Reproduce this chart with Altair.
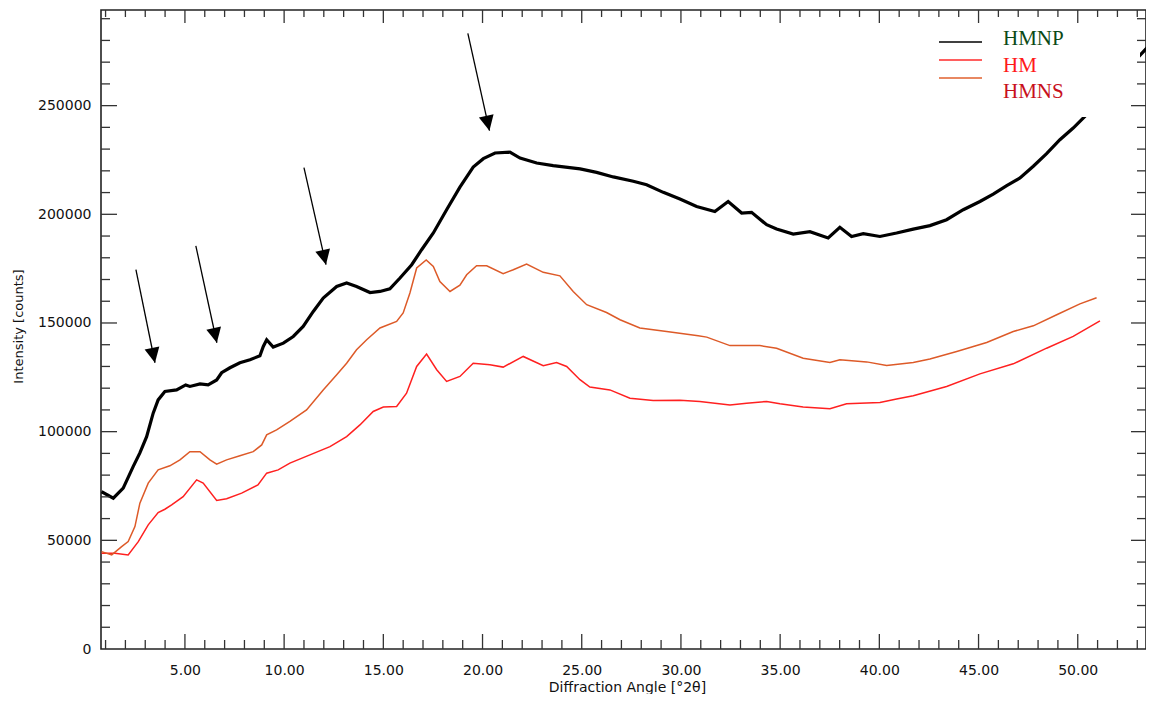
import altair as alt
import pandas as pd

# ---------------- data ----------------
hmnp_x = [0.80, 1.39, 1.89, 2.39, 2.73, 3.07, 3.40, 3.65, 3.99, 4.58, 5.04, 5.25, 5.76, 6.17, 6.60,
          6.85, 7.27, 7.77, 8.28, 8.78, 8.95, 9.12, 9.45, 9.96, 10.46, 10.96, 11.47, 11.97, 12.65, 13.15,
          13.65, 14.33, 14.83, 15.33, 15.84, 16.43, 16.93, 17.52, 18.19, 18.86, 19.53, 20.04, 20.63, 21.38,
          21.89, 22.73, 23.56, 24.92, 25.75, 26.59, 27.60, 28.27, 29.11, 29.95, 30.79, 31.71, 32.38, 33.06,
          33.56, 34.32, 34.82, 35.66, 36.50, 37.42, 38.01, 38.60, 39.19, 40.03, 40.87, 41.71, 42.55, 43.39,
          44.23, 45.07, 45.74, 46.42, 47.09, 47.76, 48.43, 49.10, 49.77, 50.36, 51.98, 53.59, 53.79]
hmnp_y = [72400, 69400, 74000, 83900, 90200, 97700, 108500, 114600, 118500, 119200, 121500, 120800, 122000,
          121500, 123800, 127100, 129400, 131700, 133100, 134900, 139200, 142300, 138900, 140700, 143800,
          148400, 155300, 161500, 166800, 168400, 166800, 164000, 164500, 165700, 170700, 176800, 183700,
          191400, 202100, 212500, 221700, 225600, 228200, 228600, 225900, 223600, 222400, 220900, 219300,
          217200, 215200, 213600, 210100, 207000, 203600, 201300, 205900, 200600, 200900, 195200, 193200,
          190900, 192000, 189100, 194000, 189800, 191100, 189800, 191400, 193200, 194800, 197500, 202100,
          205900, 209300, 213200, 216700, 222100, 227900, 234300, 239700, 245100, 262000, 277600, 280800]

hmns_x = [0.80, 1.31, 1.81, 2.14, 2.48, 2.73, 3.15, 3.65, 4.24, 4.75, 5.25, 5.76, 6.26, 6.60, 7.10,
          7.77, 8.44, 8.87, 9.12, 9.62, 10.29, 11.13, 11.97, 12.65, 13.15, 13.65, 14.16, 14.83, 15.67, 16.00,
          16.34, 16.68, 17.16, 17.52, 17.85, 18.36, 18.86, 19.20, 19.70, 20.21, 21.04, 21.55, 22.22, 23.06,
          23.90, 24.57, 25.25, 26.25, 26.93, 27.93, 29.28, 30.87, 31.30, 32.47, 33.98, 34.82, 36.16, 37.51,
          38.01, 39.36, 40.37, 41.71, 42.55, 43.90, 45.41, 46.75, 47.76, 48.94, 50.11, 50.95]
hmns_y = [44800, 43300, 47100, 49400, 56300, 67100, 76300, 82400, 84300, 87000, 90800, 90800, 87000, 85000,
          87000, 88900, 90800, 93900, 98500, 100800, 104700, 110000, 119200, 126200, 131500, 137700, 142300,
          147700, 150700, 154600, 163800, 175300, 179000, 176000, 169100, 164500, 167400, 172200, 176300,
          176300, 172700, 174500, 177100, 173300, 171700, 164500, 158400, 154800, 151500, 147700, 146100,
          144100, 143500, 139600, 139600, 138400, 133800, 131800, 133100, 132100, 130400, 131800, 133400,
          136900, 141000, 146100, 148700, 153800, 158800, 161600]

hm_x = [0.80, 1.47, 2.14, 2.65, 3.15, 3.65, 3.99, 4.33, 4.91, 5.59, 5.92, 6.60, 7.10, 7.86, 8.68,
        9.12, 9.70, 10.29, 11.30, 12.31, 13.15, 13.82, 14.49, 15.00, 15.67, 16.17, 16.68, 17.18, 17.69,
        18.19, 18.86, 19.53, 20.37, 21.04, 22.05, 23.06, 23.73, 24.24, 24.91, 25.41, 26.42, 27.43, 28.60,
        29.95, 30.95, 32.47, 33.31, 34.32, 34.99, 36.16, 37.51, 38.35, 40.03, 40.87, 41.71, 43.39, 45.07,
        46.75, 48.43, 49.77, 51.12]
hm_y = [44100, 44100, 43300, 49400, 57100, 62800, 64300, 66300, 70100, 77800, 76300, 68300, 69100, 71700,
        75500, 80900, 82400, 85500, 89300, 93100, 97700, 103100, 109300, 111300, 111600, 117700, 130000,
        135700, 128500, 123100, 125400, 131500, 130800, 129700, 134600, 130300, 131800, 130000, 123900,
        120500, 119200, 115400, 114300, 114500, 113900, 112300, 113100, 113900, 112800, 111300, 110500,
        112800, 113400, 115000, 116500, 120800, 126600, 131200, 138400, 143800, 151000]

# arrows (start -> tip, in data units) and their tilt
arrow_x = [2.53, 5.55, 11.00, 19.26]
arrow_y = [174500, 185500, 221500, 283200]
arrow_x2 = [3.49, 6.61, 12.11, 20.35]
arrow_y2 = [131700, 140900, 176800, 238500]
arrow_angle = [348.5, 347.8, 347.2, 347.5]

tick_x = list(range(1, 54))
tick_y = list(range(10000, 300000, 10000))
x_label_values = [5, 10, 15, 20, 25, 30, 35, 40, 45, 50]
y_label_values = [0, 50000, 100000, 150000, 200000, 250000]

legend_names = ["HMNP", "HM", "HMNS"]
legend_text_colors = ["#0b4a16", "#ff1a1a", "#c8101c"]
legend_line_colors = ["#000000", "#ff2a2a", "#e0602e"]

# ---------------- chart ----------------
W, H = 1045, 639
xs = alt.Scale(domain=[0.77, 53.44], nice=False, zero=False)
ys = alt.Scale(domain=[0, 294000], nice=False, zero=False)
FONT = "DejaVu Sans"

df_hmnp = pd.DataFrame({"x": hmnp_x, "y": hmnp_y})
df_hmns = pd.DataFrame({"x": hmns_x, "y": hmns_y})
df_hm = pd.DataFrame({"x": hm_x, "y": hm_y})

x_axis = alt.Axis(values=x_label_values, format=".2f", title="Diffraction Angle [°2θ]",
                  ticks=False, tickSize=0, domain=False, grid=False, labelPadding=14,
                  titleX=526, titleY=38, titleBaseline="middle", titleAlign="center", titleFontSize=14)
y_axis = alt.Axis(values=y_label_values, format="d", title="Intensity [counts]",
                  ticks=False, tickSize=0, domain=False, grid=False, labelPadding=10,
                  titleX=-83, titleY=316, titleAngle=-90, titleAlign="center", titleBaseline="middle",
                  titleFontSize=13)


def X(field):
    return alt.X(field, scale=xs, axis=x_axis)


def Y(field):
    return alt.Y(field, scale=ys, axis=y_axis)


hm_line = alt.Chart(df_hm).mark_line(color="#ff2020", strokeWidth=1.5, clip=True).encode(
    x=X("x:Q"), y=Y("y:Q"))
hmns_line = alt.Chart(df_hmns).mark_line(color="#dd5a28", strokeWidth=1.5, clip=True).encode(
    x=X("x:Q"), y=Y("y:Q"))
hmnp_line = alt.Chart(df_hmnp).mark_line(color="#000000", strokeWidth=3.2, clip=True).encode(
    x=X("x:Q"), y=Y("y:Q"))

df_arrows = pd.DataFrame({"x": arrow_x, "y": arrow_y, "x2": arrow_x2, "y2": arrow_y2, "ang": arrow_angle})
arrow_shafts = alt.Chart(df_arrows).mark_rule(color="black", strokeWidth=1.3).encode(
    x=X("x:Q"), y=Y("y:Q"), x2="x2:Q", y2="y2:Q",
)
arrow_heads = alt.Chart(df_arrows).mark_point(
    shape="M0,0 L-0.5,-1 L0.5,-1 Z", filled=True, color="black", opacity=1, size=900, strokeWidth=0
).encode(
    x=X("x2:Q"), y=Y("y2:Q"), angle=alt.Angle("ang:Q", scale=None),
)

one = pd.DataFrame({"k": [0]})
legend_bg = alt.Chart(one).mark_rect(color="white").encode(
    x=alt.value(824), x2=alt.value(1039), y=alt.value(16), y2=alt.value(107)
)

legend_layers = []
line_y = [32, 50, 68]
text_y = [29, 56, 81.5]
for i, name in enumerate(legend_names):
    legend_layers.append(
        alt.Chart(one).mark_rule(color=legend_line_colors[i], strokeWidth=1.6).encode(
            x=alt.value(838), x2=alt.value(881), y=alt.value(line_y[i])
        )
    )
    legend_layers.append(
        alt.Chart(one).mark_text(text=name, color=legend_text_colors[i], font="Liberation Serif",
                                 fontSize=21, align="left", baseline="middle").encode(
            x=alt.value(902), y=alt.value(text_y[i])
        )
    )

# inward tick marks on all four sides
df_tx = pd.DataFrame({"v": tick_x})
df_tx["major"] = df_tx["v"] % 5 == 0
df_ty = pd.DataFrame({"v": tick_y})
df_ty["major"] = df_ty["v"] % 50000 == 0

TICK = dict(color="#333333", strokeWidth=1.3, clip=True)
tick_layers = []
for major, (lb, lt, ll, lr) in [(False, (9, 7, 9, 9)), (True, (15, 13, 16, 15))]:
    dx = df_tx[df_tx["major"] == major]
    dy = df_ty[df_ty["major"] == major]
    tick_layers += [
        alt.Chart(dx).mark_rule(**TICK).encode(x=X("v:Q"), y=alt.value(H), y2=alt.value(H - lb)),
        alt.Chart(dx).mark_rule(**TICK).encode(x=X("v:Q"), y=alt.value(0), y2=alt.value(lt)),
        alt.Chart(dy).mark_rule(**TICK).encode(y=Y("v:Q"), x=alt.value(0), x2=alt.value(ll)),
        alt.Chart(dy).mark_rule(**TICK).encode(y=Y("v:Q"), x=alt.value(W - lr), x2=alt.value(W)),
    ]

chart = alt.layer(
    hm_line, hmns_line, hmnp_line, legend_bg, *legend_layers, arrow_shafts, arrow_heads, *tick_layers
).properties(
    width=W, height=H,
    autosize=alt.AutoSizeParams(type="none"),
    padding={"left": 93, "top": 2, "right": 0, "bottom": 45},
).configure_view(
    stroke="#222222", strokeWidth=1.6
).configure_axis(
    labelFont=FONT, labelFontSize=14, labelColor="#111111",
    titleFont=FONT, titleFontWeight="normal", titleColor="#111111",
)

chart.save("out.html", embed_options={"renderer": "svg", "actions": False})
